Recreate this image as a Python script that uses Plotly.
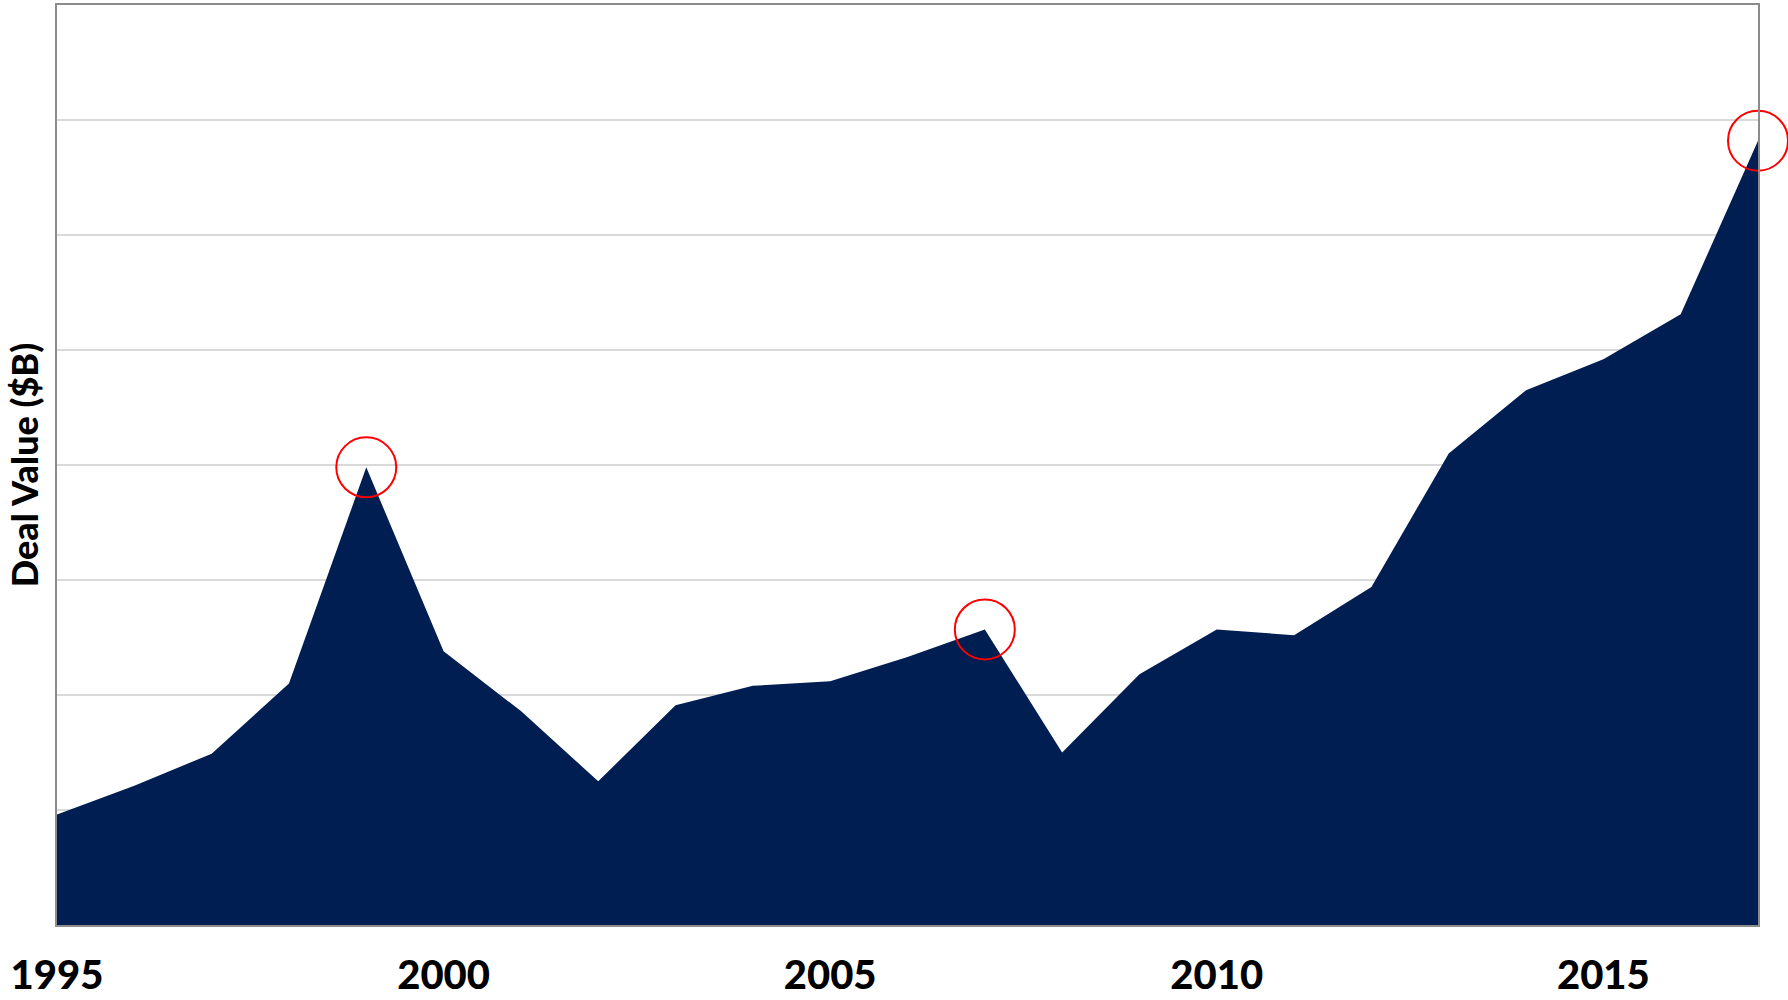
import plotly.graph_objects as go

years = list(range(1995, 2018))
deal_value = [0.96, 1.21, 1.49, 2.10, 3.98, 2.38, 1.86, 1.25, 1.91, 2.08, 2.12, 2.33, 2.57,
              1.50, 2.18, 2.57, 2.52, 2.94, 4.10, 4.65, 4.92, 5.31, 6.82]
tick_years = [1995, 2000, 2005, 2010, 2015]
tick_labels = ["1995", "2000", "2005", "2010", "2015"]
highlight_years = [1999, 2007, 2017]
y_title = "Deal Value ($B)"

FONT = "Arial Black, Lato, Roboto, Liberation Sans, sans-serif"

fig = go.Figure()
fig.add_trace(go.Scatter(
    x=years, y=deal_value, mode="lines", fill="tozeroy",
    line=dict(color="#011e53", width=0), fillcolor="#011e53",
    showlegend=False, hoverinfo="x+y",
))

# red highlight circles on selected peaks
hl_vals = [deal_value[years.index(yr)] for yr in highlight_years]
fig.add_trace(go.Scatter(
    x=highlight_years, y=hl_vals, mode="markers", cliponaxis=False,
    marker=dict(symbol="circle-open", size=60, color="#ff0000", line=dict(color="#ff0000", width=2)),
    showlegend=False, hoverinfo="skip",
))

fig.update_layout(
    width=1788, height=1000,
    margin=dict(l=57, r=30, t=5, b=75, autoexpand=False),
    plot_bgcolor="white", paper_bgcolor="white",
    font=dict(family=FONT, color="black"),
)
fig.update_xaxes(
    range=[1995, 2017], tickvals=tick_years, ticktext=tick_labels,
    tickfont=dict(family=FONT, size=40, weight=900, color="black"),
    showgrid=False, ticks="", ticklabelstandoff=14, automargin=False,
    showline=True, linecolor="#8c8c8c", linewidth=2, mirror=True, zeroline=False,
)
fig.update_yaxes(
    range=[0, 8], dtick=1, showticklabels=False, ticks="", automargin=False,
    showgrid=True, gridcolor="#d9d9d9", gridwidth=1.5,
    showline=True, linecolor="#8c8c8c", linewidth=2, mirror=True, zeroline=False,
    title=dict(text=y_title, font=dict(family=FONT, size=36, weight=900, color="black"), standoff=5),
)

fig.write_html("out.html", post_script="document.body.style.margin='0';",
               config={"displayModeBar": False})
